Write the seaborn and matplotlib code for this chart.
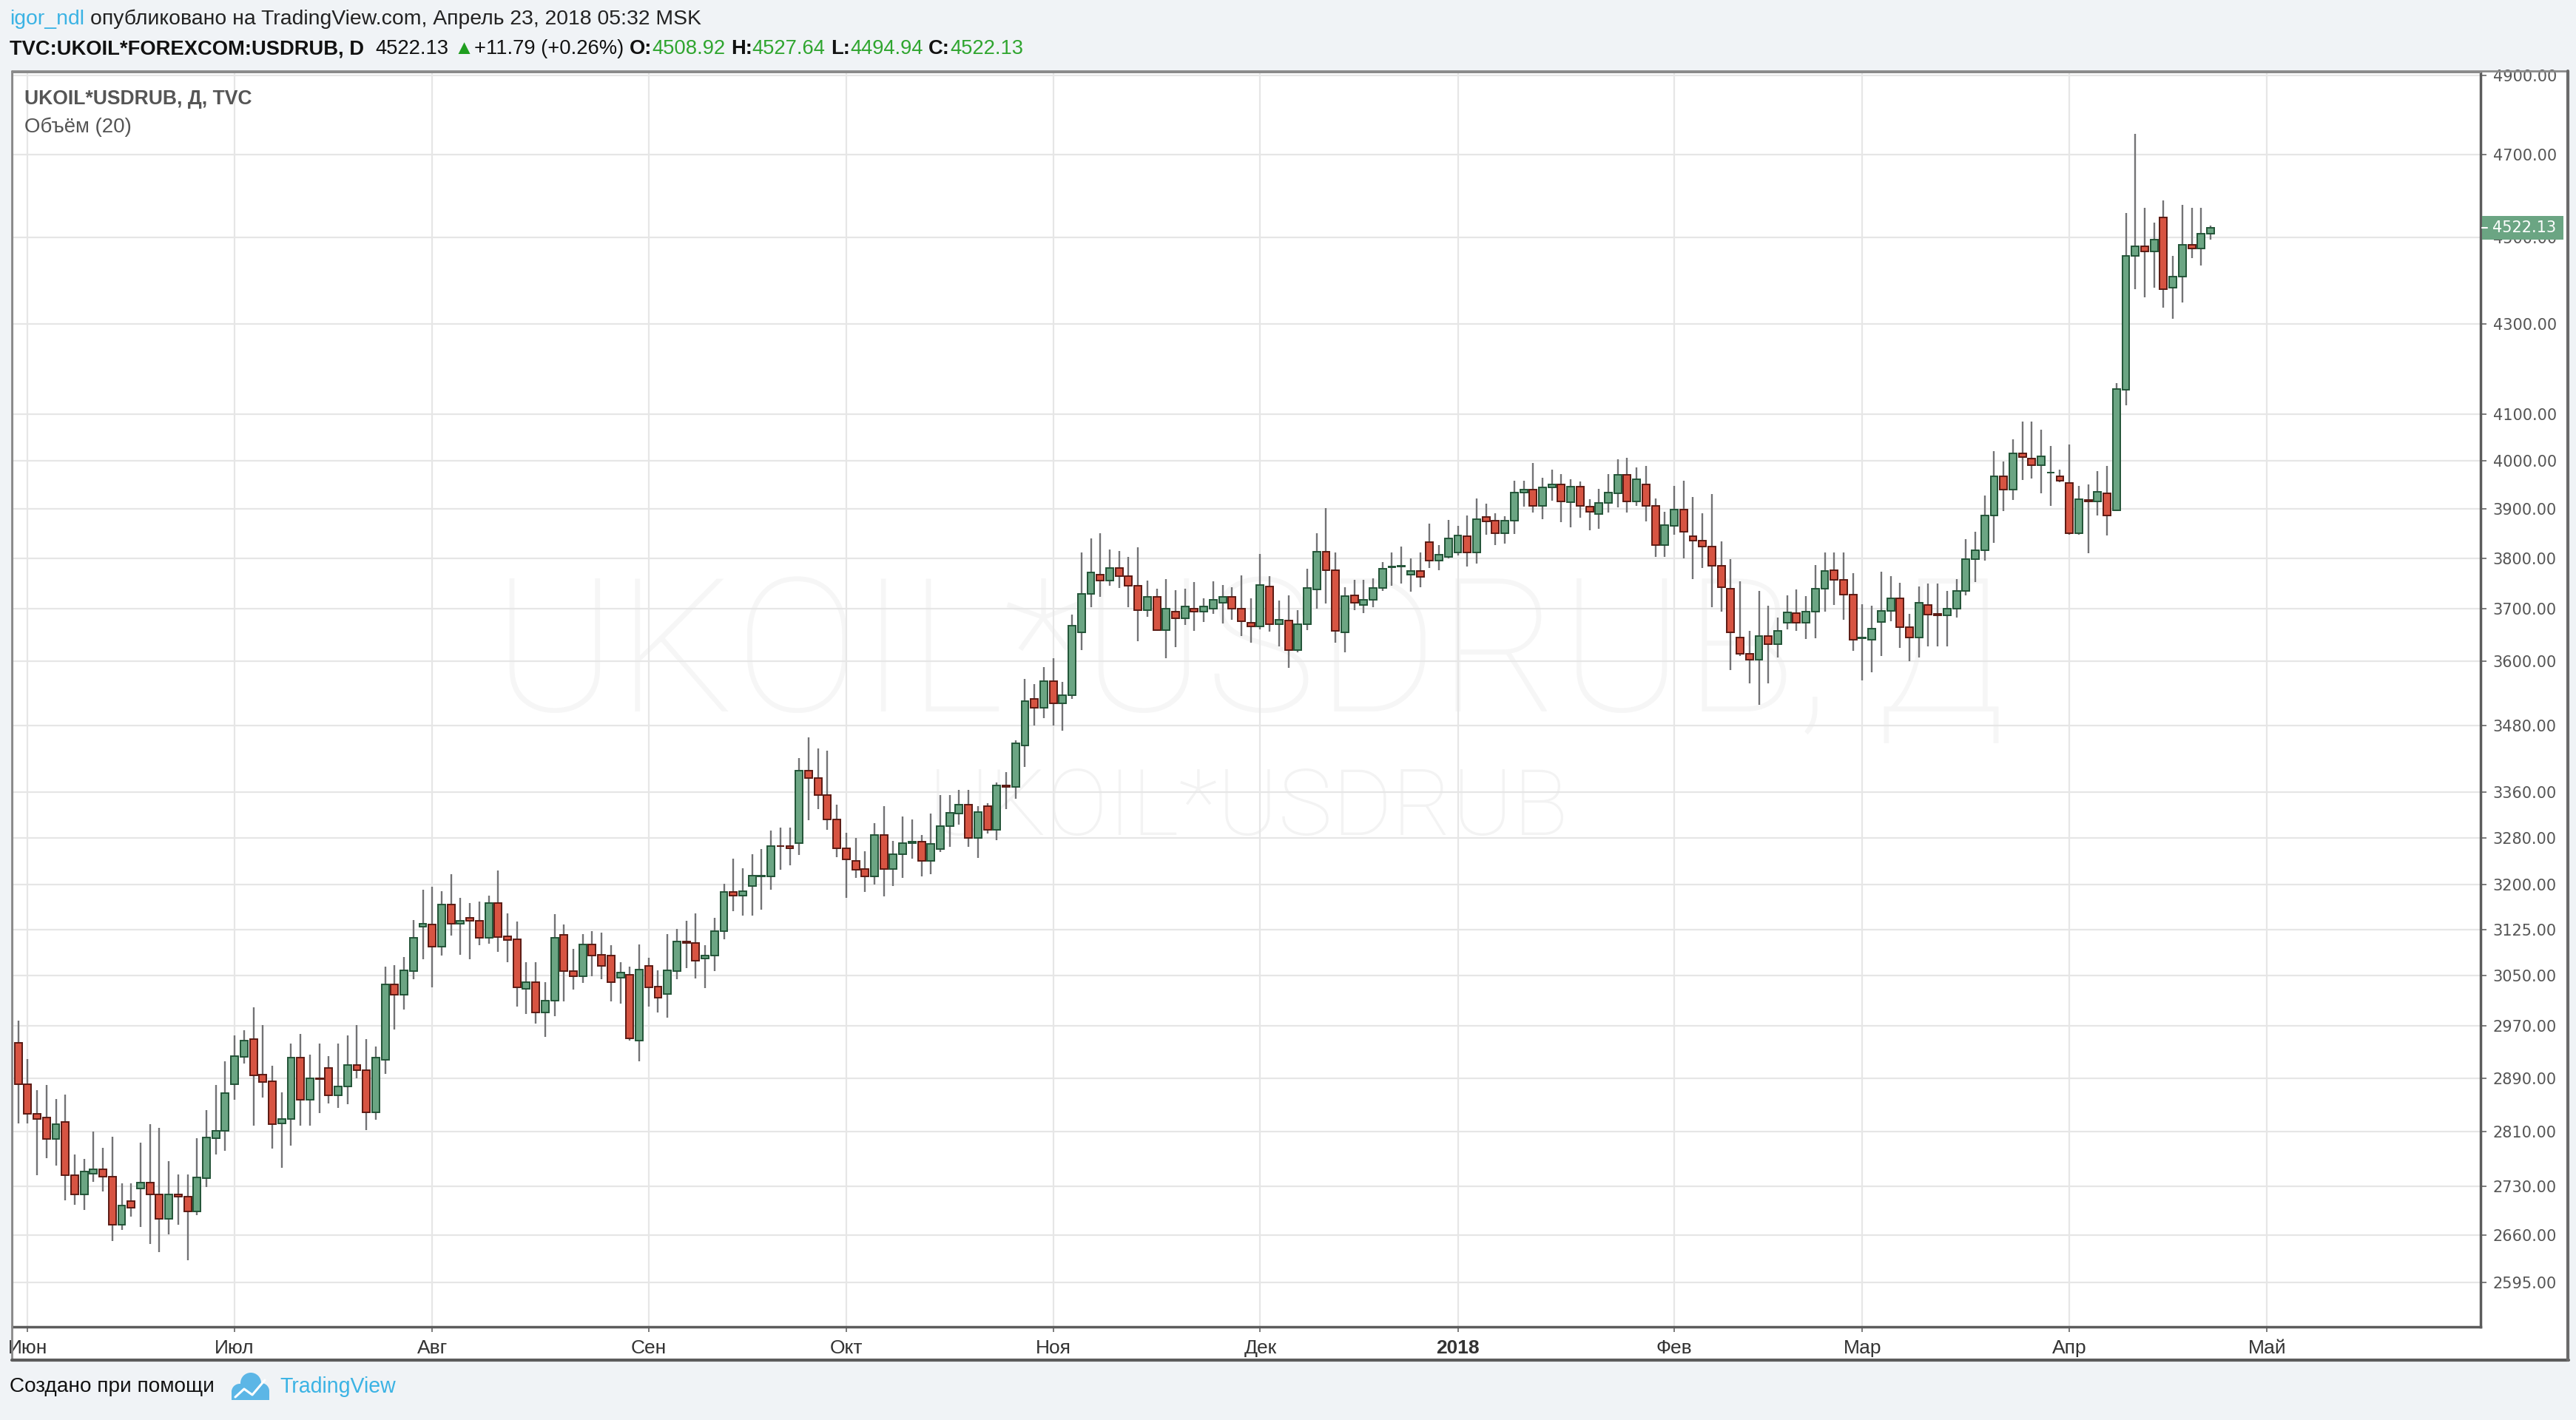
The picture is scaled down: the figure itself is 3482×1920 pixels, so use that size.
import matplotlib
matplotlib.use('Agg')
import matplotlib.pyplot as plt
import matplotlib.transforms as mtrans
import seaborn as sns
import numpy as np
import pandas as pd
from matplotlib.patches import Rectangle, Circle
from matplotlib.lines import Line2D
from matplotlib.ticker import FixedLocator, NullLocator, FixedFormatter

# ---------------- data (UKOIL*USDRUB, daily) ----------------
opens = [2944, 2880, 2836, 2831, 2799, 2824, 2746, 2718, 2748, 2754,
         2744, 2675, 2709, 2727, 2735, 2718, 2683, 2718, 2715, 2694,
         2741, 2800, 2811, 2880, 2922, 2950, 2895, 2885, 2822, 2828,
         2921, 2857, 2890, 2905, 2864, 2877, 2910, 2902, 2838, 2918,
         3036, 3020, 3057, 3130, 3133, 3097, 3167, 3135, 3144, 3140,
         3111, 3169, 3114, 3109, 3029, 3039, 2992, 3010, 3116, 3057,
         3049, 3101, 3084, 3082, 3047, 3052, 2948, 3066, 3033, 3021,
         3057, 3106, 3103, 3078, 3083, 3122, 3187, 3181, 3197, 3214,
         3214, 3266, 3265, 3271, 3398, 3384, 3354, 3311, 3262, 3240,
         3226, 3214, 3284, 3226, 3251, 3271, 3273, 3240, 3260, 3300,
         3322, 3337, 3279, 3335, 3294, 3372, 3369, 3443, 3528, 3512,
         3562, 3520, 3536, 3655, 3729, 3767, 3755, 3781, 3765, 3745,
         3698, 3723, 3659, 3695, 3682, 3701, 3695, 3701, 3712, 3724,
         3701, 3673, 3666, 3744, 3670, 3677, 3621, 3670, 3738, 3813,
         3776, 3654, 3727, 3708, 3718, 3741, 3782, 3783, 3767, 3774,
         3833, 3796, 3803, 3812, 3845, 3812, 3884, 3876, 3850, 3876,
         3934, 3940, 3907, 3944, 3950, 3914, 3946, 3905, 3890, 3913,
         3932, 3971, 3916, 3950, 3906, 3826, 3866, 3898, 3844, 3836,
         3824, 3785, 3740, 3645, 3614, 3602, 3648, 3632, 3673, 3692,
         3673, 3695, 3739, 3776, 3757, 3728, 3643, 3641, 3674, 3696,
         3721, 3664, 3645, 3708, 3690, 3687, 3700, 3735, 3799, 3816,
         3886, 3967, 3940, 4016, 4005, 3991, 3975, 3967, 3954, 3850,
         3919, 3916, 3933, 3897, 4153, 4456, 4479, 4466, 4548, 4382,
         4408, 4483, 4474, 4508.92]
highs = [2979, 2919, 2871, 2879, 2858, 2865, 2776, 2769, 2810, 2786,
         2802, 2734, 2734, 2793, 2821, 2815, 2766, 2747, 2747, 2800,
         2841, 2879, 2916, 2956, 2964, 3000, 2972, 2909, 2868, 2943,
         2958, 2926, 2943, 2924, 2943, 2956, 2972, 2950, 2938, 3064,
         3067, 3080, 3141, 3191, 3196, 3189, 3218, 3177, 3169, 3172,
         3181, 3224, 3152, 3138, 3072, 3072, 3039, 3150, 3133, 3093,
         3117, 3123, 3120, 3099, 3072, 3064, 3101, 3079, 3058, 3117,
         3126, 3140, 3152, 3099, 3144, 3201, 3244, 3227, 3252, 3261,
         3292, 3297, 3297, 3420, 3458, 3438, 3434, 3337, 3289, 3280,
         3257, 3305, 3335, 3275, 3317, 3312, 3284, 3322, 3355, 3355,
         3363, 3363, 3335, 3340, 3377, 3395, 3452, 3566, 3556, 3588,
         3605, 3560, 3689, 3811, 3840, 3851, 3818, 3814, 3802, 3822,
         3756, 3739, 3759, 3736, 3739, 3753, 3720, 3754, 3747, 3743,
         3766, 3721, 3808, 3765, 3716, 3726, 3698, 3779, 3850, 3901,
         3811, 3742, 3757, 3757, 3760, 3793, 3811, 3823, 3800, 3811,
         3870, 3827, 3878, 3866, 3887, 3921, 3911, 3891, 3885, 3958,
         3958, 3996, 3965, 3982, 3972, 3962, 3957, 3920, 3942, 3972,
         4003, 4007, 3986, 3989, 3921, 3894, 3948, 3958, 3925, 3891,
         3931, 3834, 3798, 3754, 3658, 3735, 3706, 3683, 3727, 3738,
         3725, 3786, 3812, 3812, 3811, 3770, 3709, 3706, 3773, 3764,
         3751, 3691, 3744, 3750, 3750, 3735, 3758, 3839, 3853, 3927,
         4021, 3999, 4045, 4083, 4083, 4066, 4031, 3981, 4034, 3948,
         3951, 3978, 3989, 4168, 4558, 4751, 4571, 4535, 4588, 4456,
         4578, 4571, 4571, 4527.64]
lows = [2822, 2822, 2746, 2770, 2760, 2710, 2703, 2696, 2736, 2722,
        2652, 2668, 2686, 2672, 2648, 2637, 2661, 2675, 2625, 2689,
        2729, 2776, 2781, 2857, 2912, 2818, 2860, 2784, 2756, 2789,
        2818, 2818, 2837, 2852, 2845, 2850, 2889, 2812, 2827, 2896,
        2965, 2996, 3044, 3076, 3031, 3083, 3115, 3084, 3077, 3099,
        3102, 3089, 3072, 3001, 2989, 2974, 2953, 2986, 3009, 3028,
        3038, 3049, 3044, 3009, 3006, 2948, 2915, 3001, 2991, 2983,
        3044, 3062, 3046, 3030, 3057, 3109, 3156, 3148, 3148, 3158,
        3191, 3225, 3233, 3250, 3310, 3330, 3293, 3247, 3177, 3211,
        3188, 3200, 3180, 3197, 3211, 3244, 3214, 3217, 3255, 3264,
        3302, 3264, 3245, 3287, 3276, 3330, 3348, 3405, 3479, 3493,
        3479, 3470, 3528, 3620, 3704, 3723, 3745, 3741, 3704, 3638,
        3684, 3657, 3605, 3626, 3669, 3657, 3674, 3690, 3672, 3679,
        3647, 3635, 3660, 3656, 3627, 3587, 3616, 3659, 3701, 3711,
        3634, 3616, 3698, 3692, 3704, 3735, 3746, 3750, 3733, 3743,
        3780, 3776, 3800, 3806, 3783, 3790, 3847, 3827, 3830, 3849,
        3905, 3893, 3879, 3917, 3873, 3863, 3882, 3857, 3859, 3893,
        3903, 3893, 3906, 3875, 3803, 3803, 3847, 3800, 3758, 3780,
        3704, 3694, 3582, 3609, 3558, 3518, 3558, 3607, 3660, 3657,
        3642, 3643, 3695, 3707, 3679, 3619, 3563, 3578, 3610, 3676,
        3625, 3600, 3607, 3628, 3628, 3628, 3683, 3727, 3752, 3795,
        3831, 3896, 3919, 3960, 3963, 3932, 3906, 3955, 3848, 3848,
        3810, 3887, 3846, 3895, 4119, 4378, 4360, 4382, 4336, 4311,
        4348, 4451, 4433, 4494.94]
closes = [2881, 2836, 2828, 2799, 2821, 2746, 2718, 2751, 2754, 2744,
          2675, 2702, 2699, 2735, 2718, 2683, 2718, 2715, 2694, 2742,
          2801, 2811, 2867, 2924, 2948, 2894, 2884, 2820, 2828, 2921,
          2857, 2890, 2888, 2864, 2877, 2910, 2902, 2838, 2921, 3036,
          3020, 3058, 3111, 3135, 3097, 3166, 3135, 3139, 3139, 3111,
          3169, 3113, 3108, 3031, 3039, 2992, 3010, 3112, 3057, 3049,
          3101, 3083, 3066, 3039, 3055, 2951, 3060, 3031, 3015, 3058,
          3106, 3103, 3074, 3083, 3122, 3187, 3181, 3189, 3215, 3215,
          3266, 3265, 3262, 3398, 3384, 3354, 3311, 3262, 3243, 3225,
          3214, 3284, 3226, 3251, 3271, 3273, 3240, 3269, 3300, 3323,
          3337, 3279, 3325, 3294, 3372, 3369, 3447, 3525, 3512, 3562,
          3520, 3536, 3667, 3729, 3771, 3755, 3781, 3765, 3745, 3697,
          3723, 3659, 3701, 3682, 3705, 3695, 3705, 3718, 3724, 3701,
          3676, 3666, 3747, 3670, 3679, 3621, 3670, 3741, 3813, 3776,
          3658, 3725, 3712, 3718, 3741, 3779, 3783, 3785, 3774, 3763,
          3796, 3807, 3840, 3846, 3812, 3879, 3874, 3850, 3876, 3934,
          3940, 3907, 3944, 3950, 3916, 3946, 3907, 3894, 3913, 3934,
          3971, 3916, 3961, 3906, 3826, 3867, 3898, 3853, 3836, 3824,
          3785, 3742, 3654, 3613, 3602, 3648, 3632, 3657, 3693, 3673,
          3695, 3739, 3774, 3757, 3728, 3641, 3645, 3661, 3696, 3721,
          3664, 3645, 3712, 3689, 3687, 3700, 3735, 3799, 3816, 3886,
          3968, 3940, 4016, 4008, 3991, 4010, 3976, 3958, 3850, 3920,
          3916, 3936, 3887, 4154, 4456, 4478, 4466, 4494, 4379, 4408,
          4483, 4474, 4509, 4522.13]

price_ticks = [2595, 2660, 2730, 2810, 2890, 2970, 3050, 3125, 3200, 3280,
               3360, 3480, 3600, 3700, 3800, 3900, 4000, 4100, 4300, 4500,
               4700, 4900]
month_starts = ['2017-06-01', '2017-07-01', '2017-08-01', '2017-09-01',
                '2017-10-01', '2017-11-01', '2017-12-01', '2018-01-01',
                '2018-02-01', '2018-03-01', '2018-04-01', '2018-05-01']
month_labels = ['Июн', 'Июл', 'Авг', 'Сен', 'Окт', 'Ноя', 'Дек', '2018',
                'Фев', 'Мар', 'Апр', 'Май']
last_price = 4522.13

# ---------------- style ----------------
sns.set_theme(style='white')
plt.rcParams['font.family'] = ['Liberation Sans', 'DejaVu Sans']
NARROW = ['Liberation Sans Narrow', 'Liberation Sans', 'DejaVu Sans']

W, H = 3482, 1920
BG = '#f0f3f6'
UP_FILL, UP_EDGE = '#6ba583', '#225437'
DN_FILL, DN_EDGE = '#d75442', '#5b1a13'
WICK = '#737375'
GREEN_TXT = '#2fa52f'
BLUE_TXT = '#3bb3e4'

df = pd.DataFrame({'open': opens, 'high': highs, 'low': lows, 'close': closes})
df['date'] = pd.bdate_range('2017-05-31', periods=len(df))
df['pos'] = np.arange(len(df))
calendar = pd.bdate_range('2017-05-31', '2018-06-30')
tick_pos = [int(calendar.searchsorted(pd.Timestamp(m))) for m in month_starts]

fig = plt.figure(figsize=(W / 100, H / 100), dpi=100)
fig.patch.set_facecolor(BG)
ident = mtrans.IdentityTransform()


def px_rect(x0, y0, x1, y1, **kw):
    r = Rectangle((x0, H - y1), x1 - x0, y1 - y0, transform=ident, **kw)
    fig.add_artist(r)
    return r


def px_line(xs, ys, **kw):
    ln = Line2D(xs, [H - y for y in ys], transform=ident, **kw)
    fig.add_artist(ln)
    return ln


# white chart frame
px_rect(16, 96, 3471, 1839, facecolor='white', edgecolor='none', zorder=-5)

ax = fig.add_axes([17 / W, 1 - 1794 / H, (3353 - 17) / W, (1794 - 98) / H])
ax.set_facecolor('white')
ax.set_yscale('log')
ax.set_xlim(-0.6, 261.7)
ax.set_ylim(2535, 4908)

# candles
up = df['close'] >= df['open']
body_lo = np.minimum(df['open'], df['close'])
body_h = np.abs(df['close'] - df['open'])
ax.vlines(df['pos'], df['low'], df['high'], color=WICK, linewidth=1.7, zorder=2)
ax.bar(df['pos'][up], body_h[up], bottom=body_lo[up], width=0.78,
       color=UP_FILL, edgecolor=UP_EDGE, linewidth=1.4, zorder=3)
ax.bar(df['pos'][~up], body_h[~up], bottom=body_lo[~up], width=0.78,
       color=DN_FILL, edgecolor=DN_EDGE, linewidth=1.4, zorder=3)

# axes / grid
ax.yaxis.tick_right()
ax.yaxis.set_major_locator(FixedLocator(price_ticks))
ax.yaxis.set_minor_locator(NullLocator())
ax.yaxis.set_major_formatter(FixedFormatter([f'{v:.2f}' for v in price_ticks]))
ax.xaxis.set_major_locator(FixedLocator(tick_pos))
ax.xaxis.set_minor_locator(NullLocator())
ax.xaxis.set_major_formatter(FixedFormatter(month_labels))
ax.set_axisbelow(True)
ax.grid(True, which='major', color='#e6e6e6', linewidth=1.6)
ax.tick_params(axis='y', which='major', right=True, left=False, direction='out',
               length=6, width=1.2, color='#666666', pad=6, labelsize=15,
               labelcolor='#555555', labelfontfamily='DejaVu Sans')
ax.tick_params(axis='x', which='major', bottom=True, direction='out',
               length=5, width=1.2, color='#666666', pad=7, labelsize=17,
               labelcolor='#333333')
for lab in ax.get_xticklabels():
    lab.set_family(NARROW)
    lab.set_fontsize(19)
    if lab.get_text() == '2018':
        lab.set_fontweight('bold')
for side in ['top', 'left']:
    ax.spines[side].set_color('#8a8a8a')
    ax.spines[side].set_linewidth(1.5)
for side in ['right', 'bottom']:
    ax.spines[side].set_color('#5c5c5c')
    ax.spines[side].set_linewidth(2.5)

# outer frame lines
px_line([16, 3471], [96, 96], color='#8a8a8a', linewidth=2, zorder=6)
px_line([16, 16], [96, 1839], color='#8a8a8a', linewidth=2, zorder=6)
px_line([16, 3472], [1839, 1839], color='#5c5c5c', linewidth=3, zorder=6)
px_line([3471, 3471], [96, 1839], color='#6a6a6a', linewidth=3, zorder=6)

renderer = fig.canvas.get_renderer()


def tw(s, size, weight='normal', family=None):
    kw = {}
    if family:
        kw['family'] = family
    t = fig.text(0, 0, s, fontsize=size, fontweight=weight, **kw)
    w = t.get_window_extent(renderer).width
    t.remove()
    return w


def draw_runs(runs, x_px, y_px, size, target_w=None, family=None, zorder=10):
    def total(sz):
        sp = tw('| |', sz, 'normal', family) - tw('||', sz, 'normal', family)
        tot = sum(tw(s, sz, wt, family) + n * sp for s, c, wt, n in runs)
        return tot, sp
    if target_w:
        tot, _ = total(size)
        size = size * target_w / tot
    _, sp = total(size)
    x = x_px
    for s, c, wt, n in runs:
        kw = {}
        if family:
            kw['family'] = family
        fig.text(x / W, 1 - y_px / H, s, color=c, fontsize=size, fontweight=wt,
                 ha='left', va='center', zorder=zorder, **kw)
        x += tw(s, size, wt, family) + n * sp
    return size


# header
draw_runs([('igor_ndl', BLUE_TXT, 'normal', 1),
           ('опубликовано на TradingView.com, Апрель 23, 2018 05:32 MSK', '#222222', 'normal', 0)],
          13, 26, 20, target_w=933, family=NARROW)
draw_runs([('TVC:UKOIL*FOREXCOM:USDRUB, D', '#111111', 'bold', 2),
           ('4522.13', '#111111', 'normal', 1),
           ('▲', '#1f9e1f', 'normal', 0),
           ('+11.79 (+0.26%)', '#111111', 'normal', 1),
           ('O:', '#111111', 'bold', 0), ('4508.92', GREEN_TXT, 'normal', 1),
           ('H:', '#111111', 'bold', 0), ('4527.64', GREEN_TXT, 'normal', 1),
           ('L:', '#111111', 'bold', 0), ('4494.94', GREEN_TXT, 'normal', 1),
           ('C:', '#111111', 'bold', 0), ('4522.13', GREEN_TXT, 'normal', 0)],
          13, 66, 20, target_w=1368, family=NARROW)

# legend inside chart
draw_runs([('UKOIL*USDRUB, Д, TVC', '#555555', 'bold', 0)], 33, 134, 18, target_w=307, family=NARROW)
draw_runs([('Объём (20)', '#555555', 'normal', 0)], 33, 172, 18, target_w=145, family=NARROW)

# watermarks
def watermark(text, cx, cy, target_w, color):
    s0 = 100
    t = fig.text(0, 0, text, fontsize=s0, family='Roboto', fontweight='light')
    w = t.get_window_extent(renderer).width
    t.remove()
    ax.text(cx / W, 1 - cy / H, text, transform=fig.transFigure, fontsize=s0 * target_w / w,
            family='Roboto', fontweight='light', color=color, ha='center', va='center',
            zorder=0.1)


watermark('UKOIL*USDRUB, Д', 1688, 893, 2043, '#f6f6f6')
watermark('UKOIL*USDRUB', 1688, 1095, 866, '#f3f3f3')

# last price tag on price axis
ypix = ax.transData.transform((0, last_price))[1]
tag = Rectangle((3355, ypix - 16), 110, 32, transform=ident, facecolor='#6ba583',
                edgecolor='none', zorder=20)
fig.add_artist(tag)
fig.add_artist(Line2D([3355, 3362], [ypix, ypix], transform=ident, color='white',
                      linewidth=1.5, zorder=21))
fig.text(3412 / W, ypix / H, f'{last_price:.2f}', color='white', fontsize=15,
         family='DejaVu Sans', ha='center', va='center', zorder=22)

# footer
draw_runs([('Создано при помощи', '#111111', 'normal', 0)], 13, 1875, 20, target_w=276, family=NARROW)
logo_c = '#5cb6e6'
for (cx, cy, r) in [(324, 1882, 11), (339, 1870, 14), (353, 1881, 11)]:
    fig.add_artist(Circle((cx, H - cy), r, transform=ident, facecolor=logo_c,
                          edgecolor='none', zorder=10))
px_rect(313, 1880, 364, 1893, facecolor=logo_c, edgecolor='none', zorder=10)
px_line([318, 330, 341, 358], [1889, 1878, 1886, 1866], color='white', linewidth=2.2, zorder=11)
draw_runs([('TradingView', BLUE_TXT, 'normal', 0)], 378, 1875, 20, target_w=157, family=NARROW)

fig.savefig('out.png', dpi=100, facecolor=fig.get_facecolor())
